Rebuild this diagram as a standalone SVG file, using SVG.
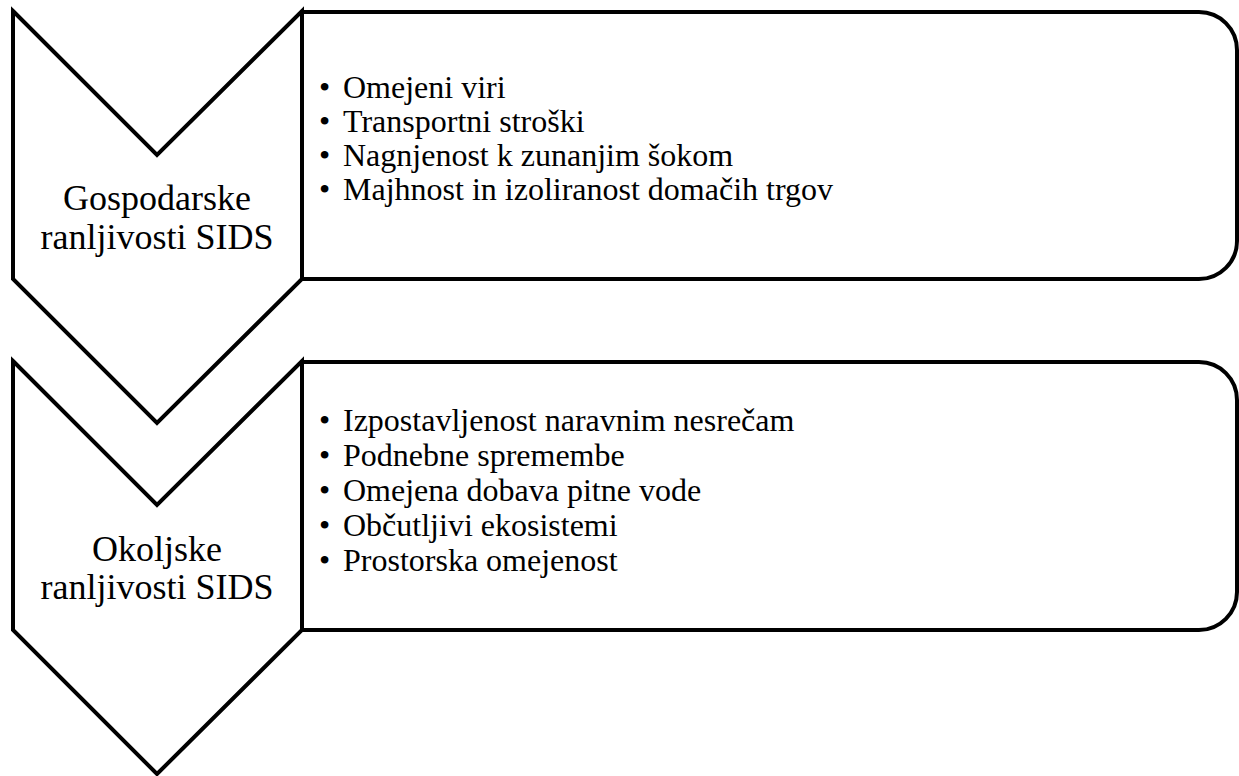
<svg xmlns="http://www.w3.org/2000/svg" width="1239" height="776" viewBox="0 0 1239 776">
<style>
.shape{fill:#fff;stroke:#000;stroke-width:4;stroke-linejoin:miter}
.lbl{font-family:"Liberation Serif","Times New Roman",serif;font-size:36px;fill:#000;text-anchor:middle}
.item{font-family:"Liberation Serif","Times New Roman",serif;font-size:32px;fill:#000}
</style>
<rect width="1239" height="776" fill="#fff"/>
<g id="box1">
<path class="shape" d="M302,12 H1199 A38,38 0 0 1 1237,50 V241 A38,38 0 0 1 1199,279 H302 Z"/>
<text class="item"><tspan x="319" y="98">•</tspan><tspan x="343" y="98">Omejeni viri</tspan></text>
<text class="item"><tspan x="319" y="132">•</tspan><tspan x="343" y="132">Transportni stroški</tspan></text>
<text class="item"><tspan x="319" y="166">•</tspan><tspan x="343" y="166">Nagnjenost k zunanjim šokom</tspan></text>
<text class="item"><tspan x="319" y="200">•</tspan><tspan x="343" y="200">Majhnost in izoliranost domačih trgov</tspan></text>
</g>
<g id="chevron1">
<polygon class="shape" points="13,11 157,155 302,11 302,279 157,423 13,279"/>
<text class="lbl" x="157" y="210">Gospodarske</text>
<text class="lbl" x="157" y="249">ranljivosti SIDS</text>
</g>
<g id="box2">
<path class="shape" d="M302,362 H1199 A38,38 0 0 1 1237,400 V592 A38,38 0 0 1 1199,630 H302 Z"/>
<text class="item"><tspan x="319" y="431">•</tspan><tspan x="343" y="431">Izpostavljenost naravnim nesrečam</tspan></text>
<text class="item"><tspan x="319" y="466">•</tspan><tspan x="343" y="466">Podnebne spremembe</tspan></text>
<text class="item"><tspan x="319" y="501">•</tspan><tspan x="343" y="501">Omejena dobava pitne vode</tspan></text>
<text class="item"><tspan x="319" y="536">•</tspan><tspan x="343" y="536">Občutljivi ekosistemi</tspan></text>
<text class="item"><tspan x="319" y="571">•</tspan><tspan x="343" y="571">Prostorska omejenost</tspan></text>
</g>
<g id="chevron2">
<polygon class="shape" points="13,361 157,505 302,361 302,630 157,774 13,630"/>
<text class="lbl" x="157" y="561">Okoljske</text>
<text class="lbl" x="157" y="599">ranljivosti SIDS</text>
</g>
<g id="connectors"></g>
</svg>
